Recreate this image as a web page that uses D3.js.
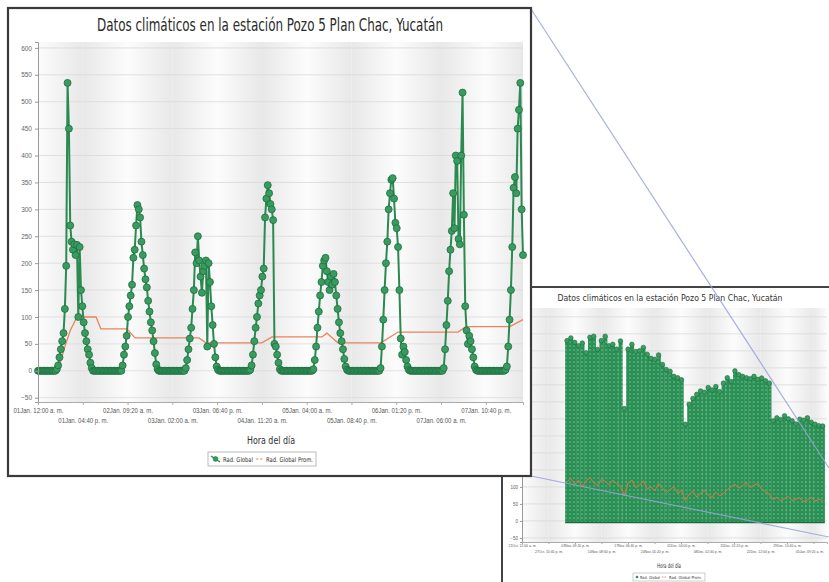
<!DOCTYPE html>
<html>
<head>
<meta charset="utf-8">
<script src="https://cdn.jsdelivr.net/npm/d3@7"></script>
<style>
	body { margin: 0; background: #fff; }
	svg { display: block; font-family: "DejaVu Sans Condensed", "DejaVu Sans", sans-serif; }
</style>
</head>
<body>
<div id="chart-area"></div>
<script>
var titulo = "Datos climáticos en la estación Pozo 5 Plan Chac, Yucatán";
var tituloEjeX = "Hora del día";
var nombresSeries = ["Rad. Global", "Rad. Global Prom."];

// Rad. Global cada 30 minutos, desde 01Jan. 12:00 a. m.
var pasoMin = 30;
var radDia1 = [0,0,0,0,0,0,0,0,0,0,0,0,0,0,3,10,25,40,55,70,115,195,535,450,270,240,225,235,215,234,100,230,150,120,90,70,55,40,30,15,5,0,0,0,0,0,0,0];
var radDia2 = [0,0,0,0,0,0,0,0,0,0,0,0,0,0,0,10,30,45,65,100,120,140,160,210,225,270,308,300,285,240,215,190,170,155,130,110,90,75,55,33,12,3,0,0,0,0,0,0];
var radDia3 = [0,0,0,0,0,0,0,0,0,0,0,0,0,0,5,20,40,60,80,115,150,220,200,250,205,175,145,185,195,205,45,200,165,120,85,50,25,8,2,0,0,0,0,0,0,0,0,0];
var radDia4 = [0,0,0,0,0,0,0,0,0,0,0,0,0,0,2,10,30,55,80,100,125,140,150,175,190,285,320,345,330,310,300,280,50,45,30,15,3,0,0,0,0,0,0,0,0,0,0,0];
var radDia5 = [0,0,0,0,0,0,0,0,0,0,0,0,0,3,20,45,80,110,140,165,195,205,210,185,165,150,175,160,180,165,140,115,90,70,55,40,22,8,2,0,0,0,0,0,0,0,0,0];
var radDia6 = [0,0,0,0,0,0,0,0,0,0,0,0,0,0,0,5,45,95,150,200,240,300,330,355,358,320,275,265,230,150,60,30,45,35,20,8,2,0,0,0,0,0,0,0,0,0,0,0];
var radDia7 = [0,0,0,0,0,0,0,0,0,0,0,0,0,0,5,40,85,130,185,225,260,330,265,400,390,245,235,400,517,290,120,75,50,65,55,40,25,8,2,0,0,0,0,0,0,0,0,0];
var radDia8 = [0,0,0,0,0,0,0,0,0,0,0,0,2,8,45,95,150,230,340,360,330,450,485,535,300,215];

// Rad. Global Prom. (horas desde el inicio, valor)
var horasProm = [0, 7.4, 10, 12, 14.5, 21.6, 23.4, 33.1, 36.1, 59.9, 62.5, 83.3, 87.1, 105.7, 107.5, 111.6, 127.6, 134, 156.3, 159.3, 175.6, 180.5];
var radProm = [0, 0, 45, 75, 100, 100, 78, 78, 61, 61, 52, 52, 63, 63, 70, 52, 52, 72, 72, 82, 82, 95];

var ticksY = [-50, 0, 50, 100, 150, 200, 250, 300, 350, 400, 450, 500, 550, 600];
var ticksXMin = [0, 1000, 2000, 3000, 4000, 5000, 6000, 7000, 8000, 9000, 10000];
var etiquetasX = ["01Jan. 12:00 a. m.", "01Jan. 04:40 p. m.", "02Jan. 09:20 a. m.", "03Jan. 02:00 a. m.",
	"03Jan. 06:40 p. m.", "04Jan. 11:20 a. m.", "05Jan. 04:00 a. m.", "05Jan. 08:40 p. m.",
	"06Jan. 01:20 p. m.", "07Jan. 06:00 a. m.", "07Jan. 10:40 p. m."];

// grafica pequeña: maximo y promedio diario
var inicioInsetDias = 11.3;
var maxDiarioInset = [530,538,525,515,523,494,540,543,504,530,543,515,519,505,529,330,
	505,519,498,500,510,490,478,475,488,460,445,440,425,421,415,284,
	343,360,372,382,378,392,385,395,380,405,421,410,441,430,425,421,418,425,416,420,412,405,
	294,303,298,309,300,294,285,299,296,303,290,284,280,279];
var promDiarioInset = [115,125,108,120,100,118,128,112,104,122,116,106,120,110,102,75,
	112,120,98,105,118,94,100,88,110,96,84,92,100,82,90,60,
	78,88,70,82,90,76,68,85,74,80,92,100,108,96,104,112,98,105,110,94,86,78,
	62,70,58,66,72,60,64,68,56,62,70,58,64,60];
var ticksInsetMin = [0, 10000, 20000, 30000, 40000, 50000, 60000, 70000, 80000, 90000, 100000, 110000];
var etiquetasInset = ["21Oct. 12:00 a. m.", "27Oct. 10:40 p. m.", "03Nov. 09:20 p. m.", "10Nov. 08:00 p. m.",
	"17Nov. 06:40 p. m.", "24Nov. 05:20 p. m.", "01Dec. 04:00 p. m.", "08Dec. 02:40 p. m.",
	"15Dec. 01:20 p. m.", "22Dec. 12:00 p. m.", "29Dec. 10:40 a. m.", "05Jan. 09:20 a. m."];

var radGlobal = [].concat(radDia1, radDia2, radDia3, radDia4, radDia5, radDia6, radDia7, radDia8);
var datos = radGlobal.map(function(v, i){ return { min: i * pasoMin, val: v }; });
var datosProm = horasProm.map(function(h, i){ return { min: h * 60, val: radProm[i] }; });

var svg = d3.select("#chart-area").append("svg")
	.attr("width", 829)
	.attr("height", 582);

var defs = svg.append("defs");
var gA = defs.append("linearGradient").attr("id", "bandaA");
gA.append("stop").attr("offset", "0").attr("stop-color", "#fcfcfc");
gA.append("stop").attr("offset", "1").attr("stop-color", "#e8e8e8");
var gB = defs.append("linearGradient").attr("id", "bandaB");
gB.append("stop").attr("offset", "0").attr("stop-color", "#e8e8e8");
gB.append("stop").attr("offset", "1").attr("stop-color", "#fcfcfc");

var pat = defs.append("pattern").attr("id", "puntos")
	.attr("width", 4).attr("height", 4).attr("patternUnits", "userSpaceOnUse");
pat.append("rect").attr("width", 4).attr("height", 4).attr("fill", "#2e9256");
pat.append("circle").attr("cx", 2).attr("cy", 2).attr("r", 1.6)
	.attr("fill", "#45b06e").attr("stroke", "#22784a").attr("stroke-width", 0.5);

function bandas(g, x, y, limites){
	for (var i = 0; i < limites.length - 1; i++) {
		g.append("rect")
			.attr("x", x(limites[i]))
			.attr("y", y.range()[1])
			.attr("width", x(limites[i + 1]) - x(limites[i]))
			.attr("height", y.range()[0] - y.range()[1])
			.attr("fill", i % 2 == 0 ? "url(#bandaA)" : "url(#bandaB)");
	}
	g.selectAll("line.grid").data(ticksY).enter()
		.append("line")
			.attr("x1", x.range()[0]).attr("x2", x.range()[1])
			.attr("y1", function(d){ return y(d); })
			.attr("y2", function(d){ return y(d); })
			.attr("stroke", "#d9d9d9").attr("stroke-width", 0.8);
}

/* ---------- grafica pequeña (fondo) ---------- */
var inset = svg.append("g");
inset.append("rect")
	.attr("x", 502).attr("y", 287).attr("width", 340).attr("height", 310)
	.attr("fill", "#fff").attr("stroke", "#444").attr("stroke-width", 2);

var xI = d3.scaleLinear().domain([0, 115100]).range([522, 827]);
var yI = d3.scaleLinear().domain([-62, 626]).range([542, 308]);

inset.append("text")
	.attr("x", 670).attr("y", 301)
	.attr("text-anchor", "middle")
	.attr("font-size", 8.5)
	.attr("fill", "#333")
	.attr("textLength", 225).attr("lengthAdjust", "spacingAndGlyphs")
	.text(titulo);

bandas(inset, xI, yI, ticksInsetMin.concat([115100]));

var anchoDia = xI(1440) - xI(0);
inset.selectAll("rect.dia").data(maxDiarioInset).enter()
	.append("rect")
		.attr("x", function(d, i){ return xI((inicioInsetDias + i) * 1440); })
		.attr("y", function(d){ return yI(d); })
		.attr("width", anchoDia + 0.3)
		.attr("height", function(d){ return yI(0) - yI(d) + 2; })
		.attr("fill", "url(#puntos)");

inset.selectAll("circle.tope").data(maxDiarioInset).enter()
	.append("circle")
		.attr("cx", function(d, i){ return xI((inicioInsetDias + i + 0.5) * 1440); })
		.attr("cy", function(d){ return yI(d); })
		.attr("r", 2.3)
		.attr("fill", "#3a9d60").attr("stroke", "#1f6f40").attr("stroke-width", 0.6);

inset.append("line")
	.attr("x1", xI(inicioInsetDias * 1440)).attr("x2", xI((inicioInsetDias + maxDiarioInset.length) * 1440))
	.attr("y1", yI(0) + 1.5).attr("y2", yI(0) + 1.5)
	.attr("stroke", "#1c6b3c").attr("stroke-width", 1.5);

inset.append("path")
	.datum(promDiarioInset)
	.attr("fill", "none")
	.attr("stroke", "#d9793f")
	.attr("stroke-width", 1)
	.attr("d", d3.line()
		.x(function(d, i){ return xI((inicioInsetDias + i + 0.5) * 1440); })
		.y(function(d){ return yI(d); }));

var ejeYI = inset.append("g")
	.attr("transform", "translate(522,0)")
	.call(d3.axisLeft(yI).tickValues(ticksY).tickSize(2).tickPadding(2));
ejeYI.selectAll("text").attr("font-size", 4.5).attr("fill", "#666");
ejeYI.selectAll("line, path").attr("stroke", "#999");

var ejeXI = inset.append("g")
	.attr("transform", "translate(0,542)")
	.call(d3.axisBottom(xI).tickValues(ticksInsetMin).tickSize(2)
		.tickFormat(function(d, i){ return etiquetasInset[i]; }));
ejeXI.selectAll("line, path").attr("stroke", "#aaa");
ejeXI.selectAll("text")
	.attr("font-size", 3.4).attr("fill", "#555")
	.attr("y", function(d, i){ return i % 2 == 0 ? 3 : 9; });
// la ultima etiqueta se alinea a la derecha para que no se corte
ejeXI.selectAll("text").filter(function(d, i){ return i == ticksInsetMin.length - 1; })
	.attr("text-anchor", "end").attr("x", 10);

inset.append("text")
	.attr("x", 669).attr("y", 568)
	.attr("text-anchor", "middle").attr("font-size", 6.5).attr("fill", "#333")
	.attr("textLength", 24).attr("lengthAdjust", "spacingAndGlyphs")
	.text(tituloEjeX);

var legI = inset.append("g").attr("transform", "translate(633,573)");
legI.append("rect").attr("width", 72).attr("height", 8).attr("fill", "#fff").attr("stroke", "#aaa").attr("stroke-width", 0.6);
legI.append("circle").attr("cx", 4).attr("cy", 4).attr("r", 1.3).attr("fill", "#2e9256");
legI.append("text").attr("x", 7).attr("y", 5.6).attr("font-size", 4).attr("fill", "#333")
	.attr("textLength", 20).attr("lengthAdjust", "spacingAndGlyphs").text(nombresSeries[0]);
legI.append("line").attr("x1", 29).attr("x2", 34).attr("y1", 4).attr("y2", 4)
	.attr("stroke", "#d9793f").attr("stroke-width", 0.8).attr("stroke-dasharray", "1.5,1");
legI.append("text").attr("x", 36).attr("y", 5.6).attr("font-size", 4).attr("fill", "#333")
	.attr("textLength", 33).attr("lengthAdjust", "spacingAndGlyphs").text(nombresSeries[1]);

/* ---------- lineas de acercamiento ---------- */
svg.append("line").attr("x1", 531).attr("y1", 9).attr("x2", 829).attr("y2", 468)
	.attr("stroke", "#9aa2da").attr("stroke-width", 1.2).attr("opacity", 0.85);
svg.append("line").attr("x1", 531).attr("y1", 476).attr("x2", 829).attr("y2", 537)
	.attr("stroke", "#9aa2da").attr("stroke-width", 1.2).attr("opacity", 0.85);

/* ---------- grafica principal ---------- */
var main = svg.append("g");
main.append("rect")
	.attr("x", 8).attr("y", 8).attr("width", 523).attr("height", 468)
	.attr("fill", "#fff").attr("stroke", "#3a3a3a").attr("stroke-width", 2.2);

main.append("text")
	.attr("x", 270).attr("y", 31)
	.attr("text-anchor", "middle")
	.attr("font-size", 17)
	.attr("fill", "#2b2b2b")
	.attr("textLength", 346).attr("lengthAdjust", "spacingAndGlyphs")
	.text(titulo);

var x = d3.scaleLinear().domain([0, 10830]).range([38, 523]);
var y = d3.scaleLinear().domain([-58, 611]).range([402, 42]);

bandas(main, x, y, ticksXMin.concat([10830]));

main.append("path")
	.datum(datosProm)
	.attr("fill", "none")
	.attr("stroke", "#e8845a")
	.attr("stroke-width", 1.3)
	.attr("d", d3.line()
		.x(function(d){ return x(d.min); })
		.y(function(d){ return y(d.val); }));

main.append("path")
	.datum(datos)
	.attr("fill", "none")
	.attr("stroke", "#2a8a4f")
	.attr("stroke-width", 2)
	.attr("d", d3.line()
		.x(function(d){ return x(d.min); })
		.y(function(d){ return y(d.val); }));

main.selectAll("circle.punto").data(datos).enter()
	.append("circle")
		.attr("cx", function(d){ return x(d.min); })
		.attr("cy", function(d){ return y(d.val); })
		.attr("r", 3.5)
		.attr("fill", "#3a9b60")
		.attr("stroke", "#1d6e3f")
		.attr("stroke-width", 0.8);

var ejeY = main.append("g")
	.attr("transform", "translate(38,0)")
	.call(d3.axisLeft(y).tickValues(ticksY).tickSize(3).tickPadding(3));
ejeY.selectAll("text").attr("font-size", 6.5).attr("fill", "#666");
ejeY.selectAll("line, path").attr("stroke", "#999");

var ejeX = main.append("g")
	.attr("transform", "translate(0,402)")
	.call(d3.axisBottom(x).tickValues(ticksXMin).tickSize(3)
		.tickFormat(function(d, i){ return etiquetasX[i]; }));
ejeX.selectAll("line, path").attr("stroke", "#aaa");
ejeX.selectAll("text")
	.attr("font-size", 6.5).attr("fill", "#555")
	.attr("y", function(d, i){ return i % 2 == 0 ? 6 : 16; })
	.attr("textLength", 50).attr("lengthAdjust", "spacingAndGlyphs");

main.append("text")
	.attr("x", 271).attr("y", 444)
	.attr("text-anchor", "middle").attr("font-size", 11).attr("fill", "#333")
	.attr("textLength", 48).attr("lengthAdjust", "spacingAndGlyphs")
	.text(tituloEjeX);

var leg = main.append("g").attr("transform", "translate(208,452)");
leg.append("rect").attr("width", 108).attr("height", 14)
	.attr("fill", "#fff").attr("stroke", "#aaa").attr("stroke-width", 0.8);
leg.append("line").attr("x1", 3).attr("x2", 12).attr("y1", 4).attr("y2", 10)
	.attr("stroke", "#2a8a4f").attr("stroke-width", 1.4);
leg.append("circle").attr("cx", 7.5).attr("cy", 7).attr("r", 2.4)
	.attr("fill", "#3a9b60").attr("stroke", "#1d6e3f").attr("stroke-width", 0.6);
leg.append("text").attr("x", 15).attr("y", 9.5).attr("font-size", 6.5).attr("fill", "#333")
	.attr("textLength", 30).attr("lengthAdjust", "spacingAndGlyphs").text(nombresSeries[0]);
leg.append("line").attr("x1", 48).attr("x2", 56).attr("y1", 7).attr("y2", 7)
	.attr("stroke", "#e8845a").attr("stroke-width", 1.2).attr("stroke-dasharray", "2.5,1.5");
leg.append("text").attr("x", 58).attr("y", 9.5).attr("font-size", 6.5).attr("fill", "#333")
	.attr("textLength", 47).attr("lengthAdjust", "spacingAndGlyphs").text(nombresSeries[1]);
</script>
</body>
</html>
